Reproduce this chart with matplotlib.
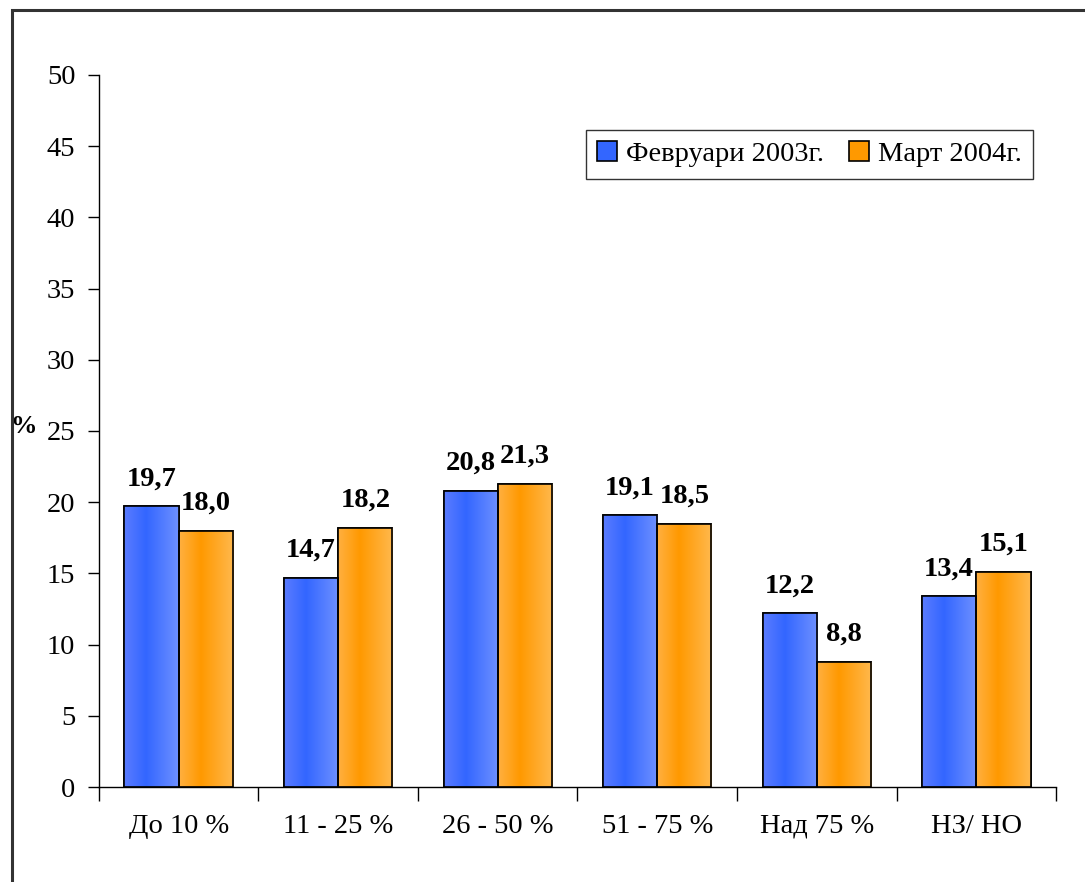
import numpy as np
import matplotlib
matplotlib.use("Agg")
import matplotlib.pyplot as plt
from matplotlib.patches import Rectangle, Patch
from matplotlib.colors import to_rgb

categories = ["До 10 %", "11 - 25 %", "26 - 50 %", "51 - 75 %", "Над 75 %", "НЗ/ НО"]
feb_2003 = [19.7, 14.7, 20.8, 19.1, 12.2, 13.4]
mar_2004 = [18.0, 18.2, 21.3, 18.5, 8.8, 15.1]
series_names = ["Февруари 2003г.", "Март 2004г."]
yticks = [0, 5, 10, 15, 20, 25, 30, 35, 40, 45, 50]

plt.rcParams["font.family"] = ["Liberation Serif", "DejaVu Serif"]

fig = plt.figure(figsize=(10.85, 8.82), dpi=100)
ax = fig.add_axes([0.0912, 0.1077, 0.8821, 0.8073])

# outer frame like the original chart area
fig.patches.append(Rectangle((12 / 1085, -0.05), 1.2, 1 - 10 / 882 + 0.05,
                             transform=fig.transFigure, fill=False,
                             edgecolor="#333333", lw=2.2))


def gradient(edge_l, mid, edge_r):
    # horizontal shading: lighter at edges, full colour a bit left of centre
    stops = np.array([0.0, 0.4, 1.0])
    cols = np.array([to_rgb(edge_l), to_rgb(mid), to_rgb(edge_r)])
    t = np.linspace(0, 1, 64)
    img = np.stack([np.interp(t, stops, cols[:, k]) for k in range(3)], axis=-1)
    return img[np.newaxis, :, :]


grad_blue = gradient("#5a7cff", "#3366ff", "#6e90ff")
grad_orange = gradient("#ffb040", "#ff9900", "#ffb84d")

x = np.arange(len(categories))
w = 0.34
bars1 = ax.bar(x - w / 2, feb_2003, w, color="#3366ff", edgecolor="black", lw=1.2, zorder=2)
bars2 = ax.bar(x + w / 2, mar_2004, w, color="#ff9900", edgecolor="black", lw=1.2, zorder=2)

for bars, g in ((bars1, grad_blue), (bars2, grad_orange)):
    for b in bars:
        x0, y0 = b.get_x(), b.get_y()
        im = ax.imshow(g, extent=(x0, x0 + b.get_width(), y0, y0 + b.get_height()),
                       aspect="auto", zorder=2.5, interpolation="bilinear")
        im.set_clip_path(b)
        # redraw outline on top
        ax.add_patch(Rectangle((x0, y0), b.get_width(), b.get_height(), fill=False,
                               edgecolor="black", lw=1.2, zorder=3))

for bars, vals in ((bars1, feb_2003), (bars2, mar_2004)):
    for b, v in zip(bars, vals):
        ax.annotate(f"{v:.1f}".replace(".", ","), (b.get_x() + b.get_width() / 2, v),
                    xytext=(0, 15), textcoords="offset points", ha="center",
                    va="baseline", fontsize=20.5, fontweight="bold")

ax.set_xlim(-0.5, len(categories) - 0.5)
ax.set_ylim(0, 50)
ax.set_yticks(yticks)
ax.tick_params(axis="y", length=8, width=1, labelsize=20.5, pad=9, direction="out")
ax.set_xticks(np.arange(len(categories) + 1) - 0.5)
ax.set_xticklabels([])
ax.tick_params(axis="x", which="major", length=10, width=1)
ax.set_xticks(x, minor=True)
ax.set_xticklabels(categories, minor=True, va="baseline")
ax.tick_params(axis="x", which="minor", length=0, labelsize=20.5, pad=33)

for s in ("top", "right"):
    ax.spines[s].set_visible(False)
for s in ("left", "bottom"):
    ax.spines[s].set_linewidth(1)

ax.text(-0.079, 25.3, "%", transform=ax.get_yaxis_transform(), ha="center", va="center",
        fontsize=19, fontweight="bold")

handles = [Patch(facecolor="#3366ff", edgecolor="black", lw=1.2),
           Patch(facecolor="#ff9900", edgecolor="black", lw=1.2)]
leg = ax.legend(handles, series_names, loc="upper right", bbox_to_anchor=(0.976, 0.923),
                ncol=2, fontsize=20.5, frameon=True, fancybox=False, edgecolor="black",
                handlelength=0.7, handleheight=0.7, handletextpad=0.3,
                columnspacing=0.9, borderpad=0.4, borderaxespad=0)
leg.get_frame().set_linewidth(1)

fig.savefig("out.png", dpi=100)
